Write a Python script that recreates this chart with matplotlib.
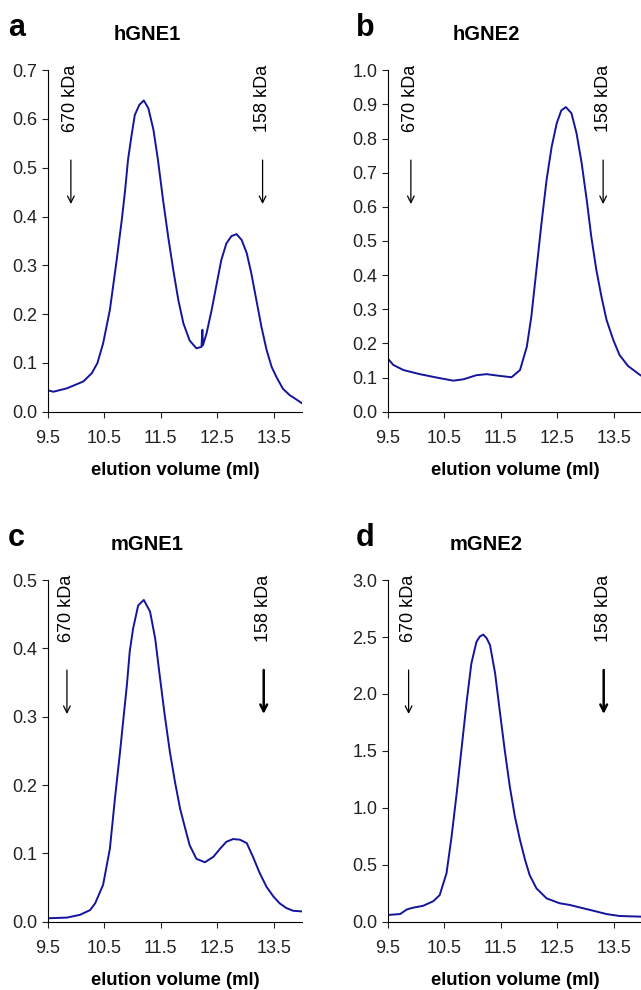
import matplotlib
matplotlib.use('Agg')
import matplotlib.pyplot as plt

plt.rcParams['font.family'] = ['Liberation Sans', 'DejaVu Sans']

# elution profiles (x = elution volume in ml, y = absorbance)
a_x = [9.5, 9.6, 9.84, 10.13, 10.28, 10.38, 10.48, 10.6, 10.72, 10.81, 10.87, 10.92, 10.98,
       11.04, 11.12, 11.2, 11.28, 11.37, 11.45, 11.54, 11.63, 11.72, 11.81, 11.9, 12.01,
       12.13, 12.22, 12.235, 12.245, 12.31, 12.4, 12.49, 12.57, 12.66, 12.75, 12.84, 12.93,
       13.02, 13.1, 13.19, 13.28, 13.37, 13.46, 13.55, 13.66, 13.78, 13.9, 14.0]
a_y = [0.044, 0.041, 0.048, 0.062, 0.079, 0.100, 0.140, 0.209, 0.311, 0.393, 0.455, 0.516, 0.564,
       0.608, 0.629, 0.638, 0.622, 0.578, 0.516, 0.434, 0.359, 0.291, 0.229, 0.181, 0.146,
       0.130, 0.133, 0.168, 0.136, 0.161, 0.209, 0.263, 0.311, 0.345, 0.360, 0.364, 0.352,
       0.325, 0.284, 0.229, 0.174, 0.127, 0.092, 0.070, 0.047, 0.034, 0.025, 0.017]

b_x = [9.5, 9.6, 9.78, 10.07, 10.37, 10.66, 10.84, 11.07, 11.25, 11.48, 11.69, 11.84, 11.96,
       12.04, 12.13, 12.22, 12.31, 12.4, 12.49, 12.57, 12.65, 12.75, 12.84, 12.93, 13.02,
       13.1, 13.19, 13.28, 13.37, 13.49, 13.6, 13.75, 13.96, 14.0]
b_y = [0.156, 0.137, 0.122, 0.110, 0.100, 0.091, 0.095, 0.107, 0.110, 0.105, 0.101, 0.122, 0.190,
       0.278, 0.415, 0.552, 0.679, 0.776, 0.845, 0.882, 0.892, 0.874, 0.815, 0.728, 0.620,
       0.513, 0.415, 0.337, 0.269, 0.210, 0.166, 0.134, 0.108, 0.104]

c_x = [9.5, 9.84, 10.07, 10.25, 10.34, 10.48, 10.6, 10.69, 10.78, 10.84, 10.9, 10.95, 11.01,
       11.1, 11.2, 11.31, 11.4, 11.48, 11.57, 11.66, 11.75, 11.84, 11.93, 12.01, 12.13,
       12.28, 12.43, 12.55, 12.66, 12.78, 12.9, 13.02, 13.13, 13.25, 13.37, 13.49, 13.6,
       13.72, 13.84, 14.0]
c_y = [0.005, 0.006, 0.010, 0.017, 0.027, 0.054, 0.107, 0.181, 0.249, 0.298, 0.346, 0.395, 0.429,
       0.463, 0.471, 0.454, 0.415, 0.361, 0.302, 0.249, 0.205, 0.166, 0.137, 0.112, 0.092,
       0.087, 0.095, 0.107, 0.117, 0.121, 0.120, 0.115, 0.095, 0.071, 0.051, 0.037, 0.027,
       0.020, 0.016, 0.015]

d_x = [9.5, 9.72, 9.84, 9.95, 10.13, 10.31, 10.42, 10.54, 10.63, 10.72, 10.81, 10.9, 10.98,
       11.07, 11.13, 11.19, 11.25, 11.31, 11.4, 11.48, 11.57, 11.66, 11.75, 11.84, 11.93,
       12.01, 12.13, 12.31, 12.54, 12.72, 12.84, 13.13, 13.37, 13.6, 14.0]
d_y = [0.059, 0.067, 0.108, 0.123, 0.140, 0.181, 0.234, 0.425, 0.747, 1.127, 1.537, 1.947, 2.269,
       2.458, 2.505, 2.522, 2.490, 2.429, 2.181, 1.859, 1.507, 1.185, 0.922, 0.717, 0.542,
       0.410, 0.293, 0.205, 0.162, 0.147, 0.132, 0.097, 0.067, 0.050, 0.044]

letters = ['a', 'b', 'c', 'd']
titles = ['hGNE1', 'hGNE2', 'mGNE1', 'mGNE2']
y_max = [0.7, 1.0, 0.5, 3.0]
y_step = [0.1, 0.1, 0.1, 0.5]
marker_x = [[9.91, 13.30], [9.91, 13.31], [9.84, 13.32], [9.87, 13.32]]
marker_labels = ['670 kDa', '158 kDa']
x_ticks = [9.5, 10.5, 11.5, 12.5, 13.5]

curves = [(a_x, a_y), (b_x, b_y), (c_x, c_y), (d_x, d_y)]

fig = plt.figure(figsize=(6.41, 9.9), dpi=100)

# axes rectangles in figure fraction
lefts = [0.0744, 0.6048, 0.0744, 0.6048]
bottoms = [0.5841, 0.5841, 0.069, 0.069]
w, h = 0.397, 0.345

for i in range(4):
    ax = fig.add_axes([lefts[i], bottoms[i], w, h])
    xs, ys = curves[i]
    ax.plot(xs, ys, color='#14149c', lw=1.4)

    ax.set_xlim(9.5, 14.0)
    ax.set_ylim(0, y_max[i])
    ax.set_xticks(x_ticks)
    n = int(round(y_max[i] / y_step[i]))
    ax.set_yticks([k * y_step[i] for k in range(n + 1)])
    ax.set_yticklabels(['%.1f' % (k * y_step[i]) for k in range(n + 1)])
    ax.tick_params(direction='out', length=4, width=0.8, labelsize=13, colors='#222222')
    ax.tick_params(axis='x', pad=9)
    ax.spines['top'].set_visible(False)
    ax.spines['right'].set_visible(False)
    ax.set_xlabel('elution volume (ml)', fontsize=13.3, fontweight='bold', labelpad=11)

    # size markers
    for j in range(2):
        lw = 1.8 if (i >= 2 and j == 1) else 0.9
        ax.annotate('', xy=(marker_x[i][j], 0.60), xytext=(marker_x[i][j], 0.745),
                    xycoords=('data', 'axes fraction'), textcoords=('data', 'axes fraction'),
                    arrowprops=dict(arrowstyle='->', color='black', lw=lw, mutation_scale=12))
        ax.text(marker_x[i][j], 1.015, marker_labels[j], rotation=90, ha='center', va='top',
                fontsize=13, transform=ax.get_xaxis_transform())

    fig.text(lefts[i] - 0.062 if i % 2 == 0 else lefts[i] - 0.05,
             bottoms[i] + h + 0.043, letters[i], fontsize=22, fontweight='bold',
             ha='left', va='center')
    fig.text(lefts[i] + (0.155 if i % 2 == 0 else 0.154), bottoms[i] + h + 0.036, titles[i],
             fontsize=14.5, fontweight='bold', ha='center', va='center')

plt.savefig('out.png', dpi=100)
